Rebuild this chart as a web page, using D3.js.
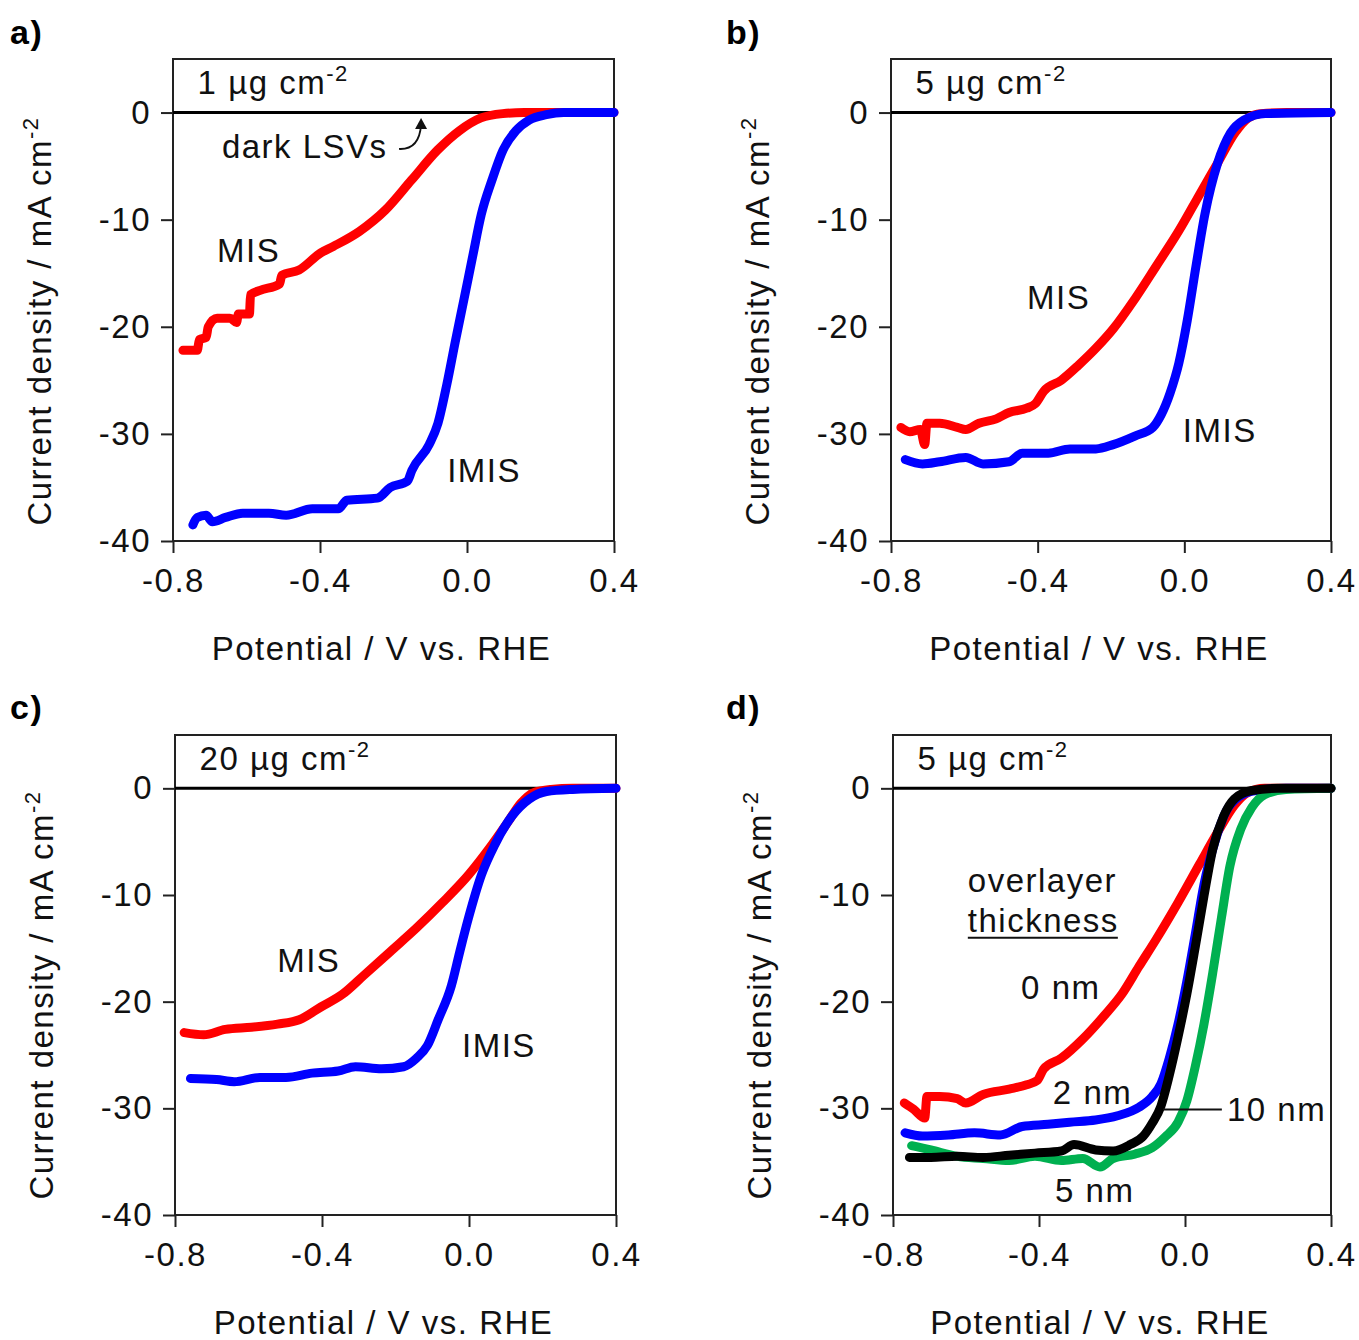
<!DOCTYPE html>
<html>
<head>
<meta charset="utf-8">
<script src="https://cdn.jsdelivr.net/npm/d3@7"></script>
<style>
  body { margin: 0; background: #fff; }
  svg { font-family: "Liberation Sans", Arial, sans-serif; }
  svg text { letter-spacing: 1.5px; }
</style>
</head>
<body>
<div class="chart"></div>
<script>
// ---- data (potential V vs RHE, current density mA cm-2) ----
var xTicks = [-0.8, -0.4, 0.0, 0.4];
var yTicks = [0, -10, -20, -30, -40];

var aMIS = [[-0.773,-22.2],[-0.734,-22.2],[-0.728,-21.2],[-0.71,-21.0],[-0.704,-20.0],[-0.68,-19.2],
  [-0.645,-19.2],[-0.627,-19.6],[-0.622,-18.8],[-0.592,-18.8],[-0.589,-17.0],[-0.563,-16.6],[-0.51,-16.0],
  [-0.504,-15.2],[-0.457,-14.7],[-0.398,-13.1],[-0.364,-12.5],[-0.293,-11.1],[-0.222,-9.1],[-0.151,-6.3],
  [-0.08,-3.5],[-0.021,-1.7],[0.038,-0.5],[0.097,-0.1],[0.156,0],[0.4,0]];
var aIMIS = [[-0.746,-38.5],[-0.734,-37.8],[-0.71,-37.6],[-0.693,-38.2],[-0.657,-37.8],[-0.61,-37.4],
  [-0.539,-37.4],[-0.492,-37.6],[-0.421,-37.0],[-0.35,-37.0],[-0.327,-36.2],[-0.244,-36.0],[-0.209,-35.0],
  [-0.162,-34.4],[-0.15,-33.4],[-0.103,-31.0],[-0.079,-29.0],[-0.055,-25.4],[-0.032,-21.4],[-0.008,-17.4],
  [0.015,-13.5],[0.039,-9.5],[0.068,-6.3],[0.098,-3.5],[0.133,-1.7],[0.169,-0.7],[0.216,-0.2],[0.263,0],[0.4,0]];

var bMIS = [[-0.773,-29.4],[-0.749,-29.8],[-0.72,-29.6],[-0.708,-31.0],[-0.702,-29.0],[-0.667,-29.0],
  [-0.619,-29.4],[-0.596,-29.6],[-0.56,-29.0],[-0.513,-28.6],[-0.478,-28.0],[-0.43,-27.6],[-0.407,-27.2],
  [-0.383,-26.0],[-0.336,-25.0],[-0.289,-23.6],[-0.241,-22.0],[-0.194,-20.2],[-0.135,-17.4],[-0.076,-14.3],
  [-0.016,-11.1],[0.044,-7.5],[0.091,-4.7],[0.138,-1.9],[0.174,-0.5],[0.209,-0.1],[0.28,0],[0.4,0]];
var bIMIS = [[-0.761,-32.4],[-0.714,-32.8],[-0.667,-32.6],[-0.596,-32.2],[-0.549,-32.8],[-0.478,-32.6],
  [-0.442,-31.8],[-0.371,-31.8],[-0.312,-31.4],[-0.241,-31.4],[-0.194,-31.0],[-0.135,-30.2],[-0.086,-29.4],
  [-0.063,-28.2],[-0.039,-26.2],[-0.015,-23.4],[0.008,-19.4],[0.032,-14.3],[0.056,-9.5],[0.091,-4.7],
  [0.126,-1.9],[0.162,-0.7],[0.221,-0.1],[0.4,0]];

var cMIS = [[-0.775,-22.9],[-0.722,-23.1],[-0.663,-22.6],[-0.592,-22.4],[-0.521,-22.1],[-0.462,-21.7],
  [-0.403,-20.5],[-0.344,-19.3],[-0.285,-17.5],[-0.214,-15.3],[-0.143,-13.1],[-0.072,-10.7],[-0.001,-8.1],
  [0.058,-5.5],[0.105,-3.2],[0.141,-1.4],[0.176,-0.4],[0.223,-0.1],[0.282,0],[0.4,0]];
var cIMIS = [[-0.758,-27.2],[-0.687,-27.3],[-0.639,-27.5],[-0.569,-27.1],[-0.498,-27.1],[-0.427,-26.7],
  [-0.356,-26.5],[-0.309,-26.1],[-0.238,-26.3],[-0.178,-26.1],[-0.143,-25.3],[-0.113,-24.1],[-0.084,-21.7],
  [-0.048,-18.5],[-0.025,-15.3],[-0.001,-12.1],[0.034,-8.1],[0.07,-5.3],[0.117,-2.6],[0.164,-1.0],
  [0.211,-0.3],[0.282,-0.1],[0.4,0]];

var d0nm = [[-0.769,-29.5],[-0.743,-30.1],[-0.713,-30.9],[-0.707,-28.9],[-0.672,-28.9],[-0.624,-29.1],
  [-0.601,-29.5],[-0.553,-28.7],[-0.482,-28.2],[-0.434,-27.8],[-0.405,-27.4],[-0.387,-26.3],[-0.339,-25.3],
  [-0.28,-23.5],[-0.221,-21.3],[-0.173,-19.3],[-0.126,-16.7],[-0.078,-14.1],[-0.019,-10.7],[0.04,-7.1],
  [0.088,-4.2],[0.135,-1.6],[0.171,-0.4],[0.218,0],[0.4,0]];
var d2nm = [[-0.767,-32.3],[-0.719,-32.6],[-0.648,-32.5],[-0.577,-32.3],[-0.506,-32.5],[-0.446,-31.7],
  [-0.375,-31.5],[-0.316,-31.3],[-0.245,-31.1],[-0.185,-30.7],[-0.126,-29.9],[-0.09,-28.9],[-0.066,-27.7],
  [-0.043,-25.3],[-0.019,-22.1],[0.005,-18.1],[0.028,-13.7],[0.052,-9.0],[0.082,-5.0],[0.112,-2.2],
  [0.147,-0.8],[0.195,-0.2],[0.277,0],[0.4,0]];
var d5nm = [[-0.749,-33.5],[-0.696,-33.9],[-0.624,-34.5],[-0.553,-34.7],[-0.482,-34.9],[-0.411,-34.5],
  [-0.339,-34.9],[-0.28,-34.7],[-0.233,-35.5],[-0.197,-34.7],[-0.138,-34.3],[-0.09,-33.7],[-0.055,-32.7],
  [-0.019,-31.3],[0.005,-29.3],[0.028,-26.1],[0.052,-22.1],[0.076,-17.3],[0.1,-12.1],[0.123,-7.3],
  [0.153,-3.8],[0.183,-1.8],[0.218,-0.6],[0.277,-0.1],[0.4,0]];
var d10nm = [[-0.755,-34.6],[-0.696,-34.6],[-0.624,-34.5],[-0.553,-34.6],[-0.482,-34.4],[-0.411,-34.2],
  [-0.339,-34.0],[-0.304,-33.4],[-0.245,-33.9],[-0.197,-34.0],[-0.15,-33.4],[-0.114,-32.6],[-0.09,-31.4],
  [-0.066,-29.8],[-0.043,-26.9],[-0.019,-23.3],[0.005,-19.3],[0.028,-14.9],[0.052,-10.1],[0.076,-5.7],
  [0.106,-2.6],[0.135,-1.0],[0.183,-0.2],[0.254,0],[0.4,0]];

var darkLSV = [[-0.8,0],[0.4,0]];

var panelLetters = ["a)", "b)", "c)", "d)"];
var loadings = ["1", "5", "20", "5"];

var red = "#ff0000", blue = "#0000ff", green = "#00b050", black = "#000000";

var width = 1359, height = 1340;
var fs = 33;
var svg = d3.select(".chart").append("svg")
    .attr("width", width)
    .attr("height", height);

var panels = [
  {left: 173, right: 614, top: 59, bottom: 541, lx: 10, ly: 44,
   series: [[aMIS, red], [aIMIS, blue]],
   notes: [["dark LSVs", -0.667, -3.2], ["MIS", -0.68, -12.9], ["IMIS", -0.054, -33.4]]},
  {left: 891, right: 1331, top: 59, bottom: 541, lx: 726, ly: 44,
   series: [[bMIS, red], [bIMIS, blue]],
   notes: [["MIS", -0.429, -17.3], ["IMIS", -0.004, -29.7]]},
  {left: 175, right: 616, top: 735, bottom: 1215, lx: 10, ly: 719,
   series: [[cMIS, red], [cIMIS, blue]],
   notes: [["MIS", -0.522, -16.1], ["IMIS", -0.019, -24.1]]},
  {left: 893, right: 1331, top: 735, bottom: 1215, lx: 726, ly: 719,
   series: [[d0nm, red], [d2nm, blue], [d5nm, green], [d10nm, black]],
   notes: [["overlayer", -0.595, -8.6], ["thickness", -0.595, -12.4], ["0 nm", -0.449, -18.7],
           ["2 nm", -0.362, -28.5], ["10 nm", 0.115, -30.1], ["5 nm", -0.356, -37.7]]}
];

panels.forEach(function (p, i) {
    var g = svg.append("g");
    var x = d3.scaleLinear().domain([-0.8, 0.4]).range([p.left, p.right]);
    var y = d3.scaleLinear().domain([-40, 5]).range([p.bottom, p.top]);

    // panel letter
    g.append("text")
        .attr("x", p.lx).attr("y", p.ly)
        .attr("font-size", 34).attr("font-weight", "bold")
        .text(panelLetters[i]);

    // frame
    g.append("rect")
        .attr("x", p.left).attr("y", p.top)
        .attr("width", p.right - p.left).attr("height", p.bottom - p.top)
        .attr("fill", "none").attr("stroke", "#222").attr("stroke-width", 2);

    // axes
    var yAxis = d3.axisLeft(y).tickValues(yTicks).tickSize(12).tickPadding(10)
        .tickFormat(d3.format("d"));
    var xAxis = d3.axisBottom(x).tickValues(xTicks).tickSize(12).tickPadding(16)
        .tickFormat(d3.format(".1f"));

    var ya = g.append("g").attr("transform", "translate(" + p.left + ",0)").call(yAxis);
    var xa = g.append("g").attr("transform", "translate(0," + p.bottom + ")").call(xAxis);
    [ya, xa].forEach(function (a) {
        a.select(".domain").remove();
        a.selectAll("line").attr("stroke", "#222").attr("stroke-width", 2);
        a.selectAll("text").attr("font-size", fs).attr("fill", "#111")
            .attr("font-family", "Liberation Sans, Arial, sans-serif")
            .text(function () { return d3.select(this).text().replace("\u2212", "-"); });
    });

    // axis titles
    g.append("text")
        .attr("x", (p.left + p.right) / 2 - 12).attr("y", p.bottom + 119)
        .attr("text-anchor", "middle").attr("font-size", fs).attr("fill", "#111")
        .text("Potential / V vs. RHE");
    var yt = g.append("text")
        .attr("transform", "translate(" + (p.left - 122) + "," + (p.bottom - 220) + ") rotate(-90)")
        .attr("text-anchor", "middle").attr("font-size", fs).attr("fill", "#111");
    yt.append("tspan").text("Current density / mA cm");
    yt.append("tspan").attr("dy", -13).attr("font-size", 22).text("-2");

    // loading label
    var lt = g.append("text")
        .attr("x", x(-0.733)).attr("y", y(2.8)).attr("dy", "0.35em")
        .attr("font-size", fs).attr("fill", "#111");
    lt.append("tspan").text(loadings[i] + " \u00b5g cm");
    lt.append("tspan").attr("dy", -13).attr("font-size", 22).text("-2");

    // dark LSV at zero
    var line = d3.line().x(function (d) { return x(d[0]); }).y(function (d) { return y(d[1]); })
        .curve(d3.curveMonotoneX);
    g.append("path").datum(darkLSV).attr("d", line)
        .attr("fill", "none").attr("stroke", "#000").attr("stroke-width", 3);

    // light LSVs
    p.series.forEach(function (s) {
        g.append("path").datum(s[0]).attr("d", line)
            .attr("fill", "none").attr("stroke", s[1]).attr("stroke-width", 9)
            .attr("stroke-linejoin", "round").attr("stroke-linecap", "round");
    });

    // annotations
    p.notes.forEach(function (n) {
        g.append("text")
            .attr("x", x(n[1])).attr("y", y(n[2])).attr("dy", "0.35em")
            .attr("font-size", fs).attr("fill", "#111")
            .text(n[0]);
    });

    if (i == 0) {
        // curved arrow to the dark LSVs
        var x0 = x(-0.185), y0 = y(-3.4), x1 = x(-0.125), y1 = y(-0.8);
        g.append("path")
            .attr("d", "M" + x0 + "," + y0 + " Q" + (x1 - 2) + "," + (y0 + 1) + " " + x1 + "," + (y1 + 4))
            .attr("fill", "none").attr("stroke", "#111").attr("stroke-width", 1.8);
        g.append("path")
            .attr("d", "M" + x1 + "," + (y1 - 3) + " L" + (x1 - 6) + "," + (y1 + 8) + " L" + (x1 + 6) + "," + (y1 + 8) + "Z")
            .attr("fill", "#111");
    }
    if (i == 3) {
        // underline for "thickness" and leader line for 10 nm
        g.append("line")
            .attr("x1", x(-0.595)).attr("x2", x(-0.184))
            .attr("y1", y(-14.0)).attr("y2", y(-14.0))
            .attr("stroke", "#111").attr("stroke-width", 2);
        g.append("line")
            .attr("x1", x(-0.06)).attr("x2", x(0.101))
            .attr("y1", y(-30.1)).attr("y2", y(-30.1))
            .attr("stroke", "#111").attr("stroke-width", 2);
    }
});
</script>
</body>
</html>
